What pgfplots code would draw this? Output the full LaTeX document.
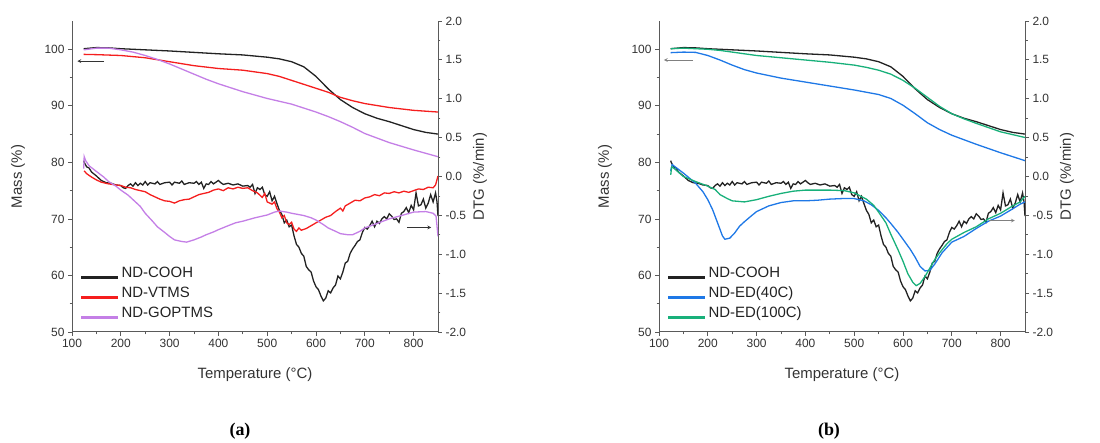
\documentclass[border=0pt]{standalone}
\usepackage{pgfplots}
\pgfplotsset{compat=1.18}
\usepackage{pgfplotstable}
\usepackage{fontspec}
\setmainfont{Liberation Sans}
\newfontfamily\serif{Liberation Serif}
\definecolor{cblack}{HTML}{222222}
\definecolor{cred}{HTML}{F51E1E}
\definecolor{cpurple}{HTML}{C47FE6}
\definecolor{cblue}{HTML}{1E78E6}
\definecolor{cgreen}{HTML}{18B07A}
\definecolor{axgrey}{HTML}{5A5A5A}
\definecolor{lbl}{HTML}{333333}

% ---- mass (TG) data ----
\pgfplotstableread{
T m
124 100.1
150 100.3
175 100.25
200 100.1
250 99.9
300 99.7
350 99.45
400 99.2
450 99.0
500 98.6
525 98.3
550 97.8
575 96.9
600 95.2
625 93.0
650 91.1
675 89.7
700 88.6
725 87.8
750 87.2
775 86.5
800 85.8
825 85.3
850 85.0
}\mCOOH
\pgfplotstableread{
T m
124 99.1
150 99.05
200 98.9
250 98.5
300 97.8
350 97.1
400 96.6
450 96.3
500 95.7
525 95.2
550 94.5
575 93.8
600 93.1
625 92.4
650 91.5
675 90.9
700 90.4
750 89.7
800 89.2
850 88.9
}\mVTMS
\pgfplotstableread{
T m
124 99.9
150 100.2
175 100.2
200 99.9
225 99.5
250 98.9
275 98.2
300 97.4
325 96.5
350 95.6
375 94.7
400 93.9
450 92.5
500 91.3
550 90.3
600 88.9
625 88.1
650 87.2
675 86.2
700 85.1
750 83.5
800 82.2
850 81.0
}\mGOP
\pgfplotstableread{
T m
124 100.1
150 100.2
200 100.0
225 99.8
250 99.5
300 98.9
350 98.5
400 98.1
450 97.7
500 97.2
525 96.8
550 96.3
575 95.6
600 94.5
625 93.1
650 91.5
675 89.9
700 88.6
725 87.7
750 86.9
800 85.4
850 84.4
}\mEDh
\pgfplotstableread{
T m
124 99.4
150 99.5
175 99.45
200 98.9
225 98.1
250 97.2
275 96.4
300 95.8
350 94.9
400 94.2
450 93.5
500 92.8
550 92.0
575 91.3
600 90.1
625 88.6
650 87.0
675 85.8
700 84.8
750 83.2
800 81.7
850 80.3
}\mEDf

% ---- DTG data ----
\pgfplotstableread{
T d
124 0.204
125 0.182
130 0.124
135 0.109
140 0.058
150 0.007
160 -0.051
170 -0.080
180 -0.087
190 -0.109
200 -0.116
205 -0.145
210 -0.153
215 -0.116
220 -0.095
225 -0.124
230 -0.080
235 -0.116
240 -0.087
245 -0.109
250 -0.065
255 -0.109
260 -0.080
270 -0.095
275 -0.065
280 -0.102
290 -0.080
300 -0.073
305 -0.109
310 -0.073
320 -0.087
325 -0.058
330 -0.102
340 -0.080
350 -0.087
355 -0.065
360 -0.102
365 -0.073
370 -0.153
375 -0.095
380 -0.102
385 -0.065
390 -0.095
400 -0.051
405 -0.080
410 -0.102
420 -0.087
430 -0.109
440 -0.095
450 -0.124
460 -0.116
465 -0.138
470 -0.102
475 -0.218
480 -0.145
485 -0.167
490 -0.138
495 -0.233
500 -0.255
505 -0.196
510 -0.313
515 -0.255
520 -0.349
525 -0.436
530 -0.487
535 -0.596
540 -0.560
545 -0.647
550 -0.625
555 -0.764
560 -0.873
565 -0.909
570 -0.989
575 -1.025
580 -1.156
585 -1.200
590 -1.229
595 -1.345
600 -1.418
605 -1.455
610 -1.535
615 -1.600
620 -1.564
625 -1.469
630 -1.498
635 -1.433
640 -1.396
645 -1.280
650 -1.316
655 -1.229
660 -1.113
665 -1.091
670 -0.989
675 -0.931
680 -0.887
685 -0.836
690 -0.815
695 -0.720
700 -0.655
705 -0.676
710 -0.633
715 -0.575
720 -0.647
725 -0.575
730 -0.604
735 -0.545
740 -0.516
745 -0.545
750 -0.480
755 -0.509
760 -0.553
765 -0.545
770 -0.589
775 -0.473
780 -0.451
785 -0.400
790 -0.465
795 -0.371
800 -0.429
805 -0.211
810 -0.378
815 -0.364
820 -0.291
825 -0.407
830 -0.342
835 -0.233
840 -0.327
845 -0.211
848 -0.327
850 -0.509
}\dCOOH
\pgfplotstableread{
T d
125 0.073
130 0.036
140 -0.007
150 -0.044
160 -0.073
175 -0.095
190 -0.109
200 -0.116
210 -0.138
220 -0.145
230 -0.167
240 -0.182
250 -0.196
260 -0.233
270 -0.262
280 -0.291
290 -0.313
300 -0.320
310 -0.342
320 -0.313
330 -0.298
340 -0.291
350 -0.262
360 -0.233
370 -0.218
380 -0.204
390 -0.175
400 -0.160
410 -0.182
420 -0.145
430 -0.160
440 -0.138
450 -0.153
460 -0.145
470 -0.182
480 -0.211
490 -0.269
495 -0.218
500 -0.327
510 -0.356
515 -0.327
520 -0.415
525 -0.458
530 -0.531
535 -0.502
540 -0.596
545 -0.618
550 -0.589
555 -0.676
560 -0.705
565 -0.662
570 -0.691
580 -0.669
590 -0.633
600 -0.596
610 -0.560
620 -0.524
630 -0.502
640 -0.451
650 -0.407
655 -0.444
660 -0.378
670 -0.342
680 -0.305
690 -0.313
700 -0.276
710 -0.262
720 -0.233
730 -0.247
740 -0.211
750 -0.218
760 -0.196
770 -0.211
780 -0.189
790 -0.204
800 -0.182
810 -0.160
820 -0.167
830 -0.138
840 -0.145
845 -0.109
850 0.007
}\dVTMS
\pgfplotstableread{
T d
124 0.102
125 0.255
128 0.204
135 0.138
150 0.065
165 -0.007
175 -0.065
190 -0.124
200 -0.175
215 -0.240
225 -0.298
240 -0.385
250 -0.473
265 -0.575
275 -0.647
290 -0.720
300 -0.771
310 -0.815
325 -0.836
335 -0.844
350 -0.815
365 -0.778
375 -0.749
390 -0.713
400 -0.684
420 -0.633
435 -0.596
450 -0.575
475 -0.531
500 -0.495
515 -0.458
525 -0.444
540 -0.458
550 -0.473
575 -0.502
590 -0.531
600 -0.560
615 -0.618
625 -0.662
640 -0.705
650 -0.735
665 -0.749
675 -0.749
690 -0.705
700 -0.662
725 -0.604
750 -0.545
775 -0.502
800 -0.458
825 -0.451
840 -0.473
846 -0.509
850 -0.771
}\dGOP
\pgfplotstableread{
T d
124 0.022
126 0.124
130 0.109
150 0.000
175 -0.065
200 -0.124
215 -0.167
225 -0.233
240 -0.284
250 -0.313
275 -0.327
300 -0.298
325 -0.255
350 -0.218
375 -0.189
400 -0.175
450 -0.175
480 -0.182
500 -0.211
525 -0.291
540 -0.371
550 -0.458
565 -0.596
575 -0.742
590 -0.945
600 -1.091
610 -1.251
620 -1.360
627 -1.404
635 -1.375
645 -1.287
655 -1.178
665 -1.069
675 -0.982
690 -0.865
700 -0.807
725 -0.720
750 -0.647
775 -0.545
800 -0.473
825 -0.378
840 -0.327
850 -0.255
}\dEDh
\pgfplotstableread{
T d
124 0.073
127 0.153
150 0.044
175 -0.087
190 -0.196
200 -0.298
210 -0.429
220 -0.596
230 -0.764
235 -0.807
245 -0.793
255 -0.727
265 -0.640
275 -0.582
290 -0.502
300 -0.451
325 -0.378
350 -0.335
375 -0.313
400 -0.313
425 -0.305
450 -0.291
475 -0.284
500 -0.284
520 -0.313
535 -0.364
550 -0.436
565 -0.531
575 -0.604
590 -0.720
600 -0.807
615 -0.938
625 -1.040
635 -1.156
645 -1.215
655 -1.207
665 -1.127
680 -0.982
700 -0.844
725 -0.771
750 -0.669
775 -0.575
800 -0.509
825 -0.415
840 -0.356
850 -0.327
}\dEDf

\pgfplotsset{
  common/.style={scale only axis, width=366bp, height=311bp, xmin=100, xmax=850,
    /pgf/number format/assume math mode=true,
    tick align=outside, major tick length=4bp, minor tick length=2.5bp,
    axis line style={draw=axgrey, line width=1bp},
    tick style={draw=axgrey, line width=0.8bp},
    ticklabel style={font=\fontsize{12}{14}\selectfont, text=lbl},
  },
  crv/.style={#1, no markers, line width=1.3bp},
  massax/.style={common, ymin=50, ymax=105, axis x line*=bottom, axis y line*=left,
    xtick={100,200,...,800}, minor x tick num=1, ytick={50,60,...,100}, minor y tick num=1,
    xlabel={Temperature (°C)}, ylabel={Mass (\%)},
    every axis x label/.style={at={(axis description cs:0.5,-0.138)}, anchor=center,
      font=\fontsize{15}{18}\selectfont, text=lbl},
    every axis y label/.style={at={(axis description cs:-0.1475,0.5)}, rotate=90, anchor=center,
      font=\fontsize{15}{18}\selectfont, text=lbl},
    legend cell align=left,
    legend image code/.code={\fill[##1, draw=none] (0bp,-1.2bp) rectangle (37bp,1.2bp); \path (40bp,0bp);},
    legend style={draw=none, fill=none, inner sep=0pt, outer sep=0pt,
      at={(axis description cs:0.0246,0.2077)}, anchor=north west, row sep=0pt,
      font=\fontsize{15}{18}\selectfont,
      nodes={inner sep=0pt, text height=10bp, text depth=10bp, text=cblack}},
  },
  dtgax/.style={common, ymin=-2, ymax=2, axis x line=none, axis y line*=right, xtick=\empty,
    ytick={-2,-1.5,...,2}, minor y tick num=1,
    yticklabel style={/pgf/number format/.cd, fixed, fixed zerofill, precision=1},
    ylabel={DTG (\%/min)},
    every axis y label/.style={at={(axis description cs:1.1148,0.5)}, rotate=90, anchor=center,
      font=\fontsize{15}{18}\selectfont, text=lbl},
  },
}

\begin{document}
\begin{tikzpicture}
\useasboundingbox (0bp,0bp) rectangle (1100bp,443bp);
% ===== panel (a) =====
\begin{axis}[massax, at={(72bp,111bp)}, anchor=south west]
  \addplot[crv=cblack] table[x=T,y=m]{\mCOOH}; \addlegendentry{ND-COOH}
  \addplot[crv=cred] table[x=T,y=m]{\mVTMS}; \addlegendentry{ND-VTMS}
  \addplot[crv=cpurple] table[x=T,y=m]{\mGOP}; \addlegendentry{ND-GOPTMS}
  \draw[-stealth, black!80, line width=0.7bp] (axis cs:166,97.9) -- (axis cs:111,97.9);
\end{axis}
\begin{axis}[dtgax, at={(72bp,111bp)}, anchor=south west]
  \addplot[crv=cblack] table[x=T,y=d]{\dCOOH};
  \addplot[crv=cred] table[x=T,y=d]{\dVTMS};
  \addplot[crv=cpurple] table[x=T,y=d]{\dGOP};
  \draw[-stealth, black!80, line width=0.7bp] (axis cs:786,-0.655) -- (axis cs:836,-0.655);
\end{axis}
% ===== panel (b) =====
\begin{axis}[massax, at={(659bp,111bp)}, anchor=south west]
  \addplot[crv=cblack] table[x=T,y=m]{\mCOOH}; \addlegendentry{ND-COOH}
  \addplot[crv=cblue] table[x=T,y=m]{\mEDf}; \addlegendentry{ND-ED(40C)}
  \addplot[crv=cgreen] table[x=T,y=m]{\mEDh}; \addlegendentry{ND-ED(100C)}
  \draw[-stealth, black!50, line width=0.7bp] (axis cs:170,98.1) -- (axis cs:110,98.1);
\end{axis}
\begin{axis}[dtgax, at={(659bp,111bp)}, anchor=south west]
  \addplot[crv=cblack] table[x=T,y=d]{\dCOOH};
  \addplot[crv=cblue] table[x=T,y=d]{\dEDf};
  \addplot[crv=cgreen] table[x=T,y=d]{\dEDh};
  \draw[-stealth, black!50, line width=0.7bp] (axis cs:777,-0.567) -- (axis cs:829,-0.567);
\end{axis}
\node[font=\serif\bfseries\fontsize{18}{21}\selectfont, text=black] at (240bp,12bp) {(a)};
\node[font=\serif\bfseries\fontsize{18}{21}\selectfont, text=black] at (829bp,12bp) {(b)};
\end{tikzpicture}
\end{document}
